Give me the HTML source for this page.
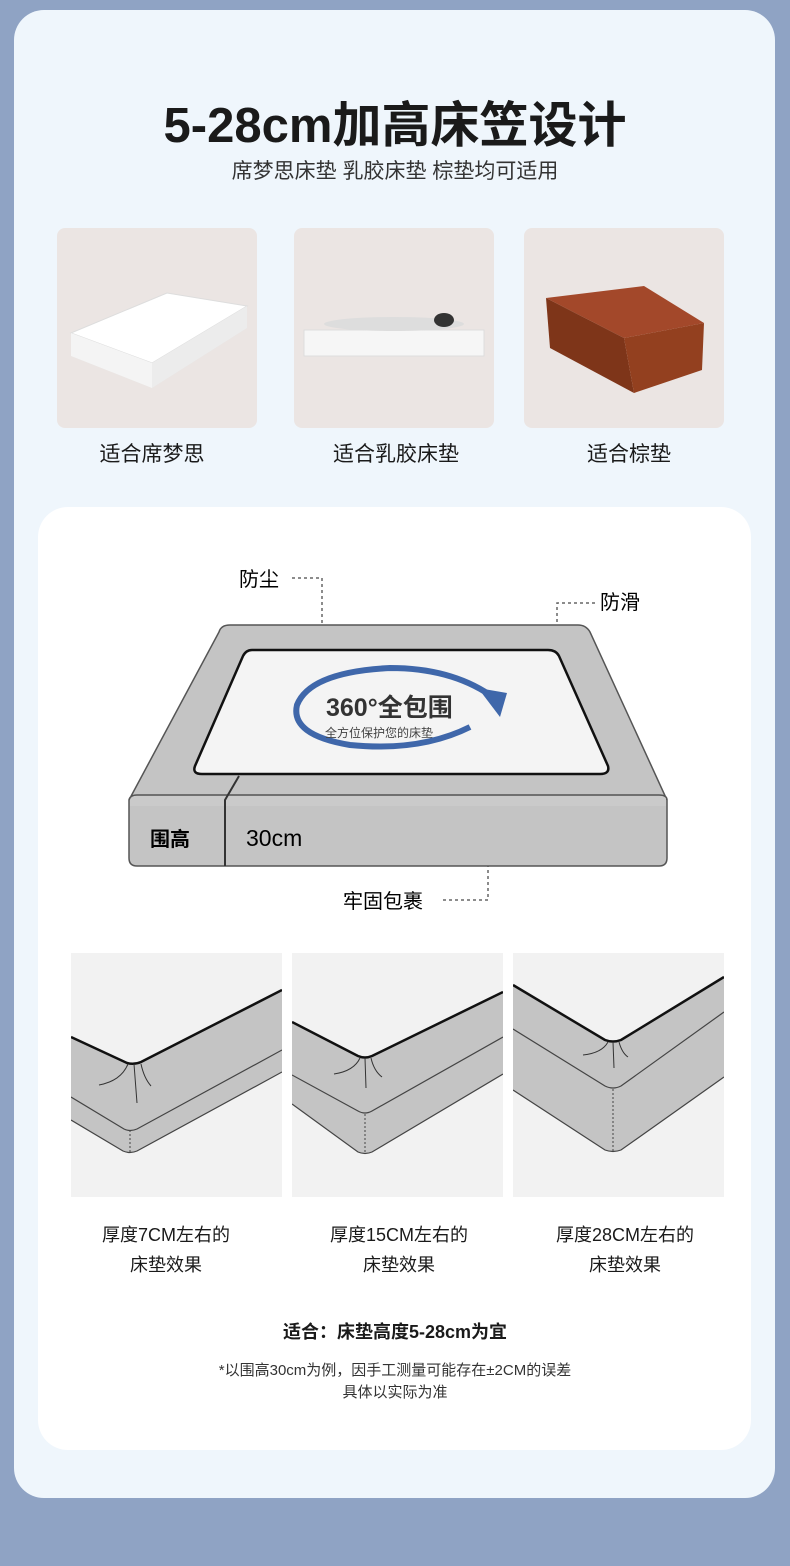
<!DOCTYPE html>
<html><head><meta charset="utf-8"><style>
*{margin:0;padding:0;box-sizing:border-box}
body{width:790px;height:1566px;background:#8fa3c4;position:relative;overflow:hidden;font-family:"Liberation Sans","Noto Sans CJK SC",sans-serif;color:#1a1a1a}
.card{position:absolute;left:14px;top:10px;width:761px;height:1488px;background:#eff6fc;border-radius:30px}
.t{position:absolute;left:0;width:790px;text-align:center;white-space:nowrap}
.box{position:absolute;top:228px;width:200px;height:200px;background:#ebe5e3;border-radius:8px;overflow:hidden}
.lab{position:absolute;top:438px;width:200px;text-align:center;font-size:21px}
.panel{position:absolute;left:38px;top:507px;width:713px;height:943px;background:#fff;border-radius:30px}
.cp{position:absolute;top:953px;width:211px;height:244px;background:#f2f2f2}
.cl{position:absolute;width:240px;text-align:center;font-size:18px;line-height:30px;top:1220px}
</style></head><body>
<div class="card"></div>
<div class="t" style="top:86px;font-size:49px;font-weight:bold">5-28cm加高床笠设计</div>
<div class="t" style="top:155px;font-size:21px;color:#333">席梦思床垫 乳胶床垫 棕垫均可适用</div>

<div class="box" style="left:57px"><svg width="200" height="200">
<path d="M14,105 L110,65 L190,78 L190,100 L95,160 L14,128 Z" fill="#e4e4e4"/>
<path d="M14,105 L110,65 L190,78 L95,135 Z" fill="#fff" stroke="#ddd"/>
<path d="M14,105 L95,135 L95,160 L14,128 Z" fill="#f4f4f4"/>
<path d="M95,135 L190,78 L190,100 L95,160 Z" fill="#ececec"/></svg></div>
<div class="box" style="left:294px"><svg width="200" height="200">
<rect x="10" y="102" width="180" height="26" fill="#f6f6f6" stroke="#ddd"/>
<ellipse cx="100" cy="96" rx="70" ry="7" fill="#ddd"/>
<ellipse cx="150" cy="92" rx="10" ry="7" fill="#333"/></svg></div>
<div class="box" style="left:524px"><svg width="200" height="200">
<path d="M22,70 L120,58 L180,95 L100,110 Z" fill="#a3482a"/>
<path d="M22,70 L100,110 L110,165 L26,120 Z" fill="#7e3519"/>
<path d="M100,110 L180,95 L178,142 L110,165 Z" fill="#93401f"/></svg></div>
<div class="lab" style="left:52px">适合席梦思</div>
<div class="lab" style="left:296px">适合乳胶床垫</div>
<div class="lab" style="left:529px">适合棕垫</div>

<div class="panel"></div>
<svg style="position:absolute;left:0;top:0" width="790" height="1000">
<g stroke="#666" stroke-dasharray="3,3" fill="none" stroke-width="1.5">
<path d="M292,578 H322 V636"/><path d="M595,603 H557 V640"/><path d="M443,900 H488 V838"/></g>
<path d="M129,800 L219,632 Q221,625 230,625 L578,625 Q586,625 590,632 L667,800 L667,858 Q667,866 659,866 L137,866 Q129,866 129,858 Z" fill="#c4c4c4" stroke="#555" stroke-width="1.5"/>
<rect x="130" y="796" width="536" height="10" fill="#cacaca"/>
<path d="M129,800 Q130,795 137,795 L659,795 Q667,795 667,800" fill="none" stroke="#555" stroke-width="1.5"/>
<path d="M239,776 L225,800 L225,866" fill="none" stroke="#333" stroke-width="2"/>
<path d="M252,650 L548,650 Q556,650 559,656 L608,766 Q610,774 600,774 L202,774 Q192,774 195,766 L243,656 Q246,650 252,650 Z" fill="#f4f4f4" stroke="#111" stroke-width="2.5"/>
<path d="M470,727 Q420,752 350,745 Q290,735 297,705 Q310,672 390,668 Q450,668 490,695" fill="none" stroke="#3f67aa" stroke-width="6"/>
<polygon points="478,688 507,693 500,717" fill="#3f67aa"/>
<text x="326" y="716" font-size="25" font-weight="bold" font-family="Liberation Sans,Noto Sans CJK SC,sans-serif" fill="#333">360°全包围</text>
<text x="325" y="737" font-size="12" font-family="Liberation Sans,Noto Sans CJK SC,sans-serif" fill="#444">全方位保护您的床垫</text>
<text x="150" y="846" font-size="20" font-weight="bold" font-family="Liberation Sans,Noto Sans CJK SC,sans-serif">围高</text>
<text x="246" y="846" font-size="23" font-family="Liberation Sans,sans-serif">30cm</text>
<g font-size="20" font-family="Liberation Sans,Noto Sans CJK SC,sans-serif"><text x="239" y="586">防尘</text><text x="600" y="609">防滑</text><text x="343" y="908">牢固包裹</text></g>
</svg>

<div class="cp" style="left:71px"><svg width="211" height="244">
<path d="M0,84 L56,110 Q63,112 70,109 L211,37 L211,119 L66,198 Q59,201 52,198 L0,167 Z" fill="#c4c4c4"/>
<path d="M0,84 L56,110 Q63,112 70,109 L211,37" fill="none" stroke="#111" stroke-width="2.5"/>
<path d="M0,144 L53,176 Q59,179 66,176 L211,97 M0,167 L52,198 Q59,201 66,198 L211,119" fill="none" stroke="#444" stroke-width="1.2"/>
<path d="M59,177 V200" stroke="#444" stroke-dasharray="2,2"/>
<path d="M63,111 L66,150 M57,111 Q50,128 28,132 M70,111 Q73,125 80,133" stroke="#333" fill="none"/></svg></div>
<div class="cp" style="left:292px"><svg width="211" height="244">
<path d="M0,69 L66,103 Q73,106 80,103 L211,39 L211,121 L80,199 Q73,202 66,199 L0,151 Z" fill="#c4c4c4"/>
<path d="M0,69 L66,103 Q73,106 80,103 L211,39" fill="none" stroke="#111" stroke-width="2.5"/>
<path d="M0,122 L66,158 Q73,162 80,158 L211,84 M0,151 L66,199 Q73,202 80,199 L211,121" fill="none" stroke="#444" stroke-width="1.2"/>
<path d="M73,161 V200" stroke="#444" stroke-dasharray="2,2"/>
<path d="M73,105 L74,135 M68,105 Q62,118 42,121 M79,105 Q82,118 90,124" stroke="#333" fill="none"/></svg></div>
<div class="cp" style="left:513px"><svg width="211" height="244">
<path d="M0,32 L92,87 Q100,90 108,87 L211,24 L211,124 L108,197 Q100,200 92,197 L0,137 Z" fill="#c4c4c4"/>
<path d="M0,32 L92,87 Q100,90 108,87 L211,24" fill="none" stroke="#111" stroke-width="2.5"/>
<path d="M0,76 L92,133 Q100,137 108,133 L211,59 M0,137 L92,197 Q100,200 108,197 L211,124" fill="none" stroke="#444" stroke-width="1.2"/>
<path d="M100,136 V199" stroke="#444" stroke-dasharray="2,2"/>
<path d="M100,89 L101,115 M95,89 Q89,100 70,102 M106,89 Q109,100 115,104" stroke="#333" fill="none"/></svg></div>
<div class="cl" style="left:46px">厚度7CM左右的<br>床垫效果</div>
<div class="cl" style="left:279px">厚度15CM左右的<br>床垫效果</div>
<div class="cl" style="left:505px">厚度28CM左右的<br>床垫效果</div>

<div class="t" style="top:1318px;font-size:18px;font-weight:bold">适合：床垫高度5-28cm为宜</div>
<div class="t" style="top:1360px;font-size:15px;color:#333;line-height:22px">*以围高30cm为例，因手工测量可能存在±2CM的误差<br>具体以实际为准</div>
</body></html>
